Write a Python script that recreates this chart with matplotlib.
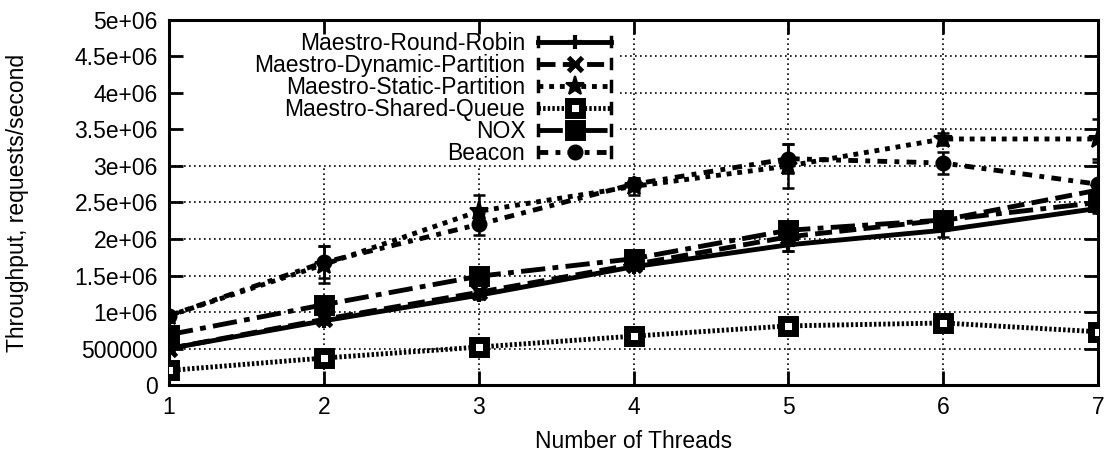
import numpy as np
import matplotlib.pyplot as plt
from matplotlib.lines import Line2D
from matplotlib.legend_handler import HandlerLine2D

plt.rcParams['font.family'] = ['Liberation Sans', 'DejaVu Sans']

threads = [1, 2, 3, 4, 5, 6, 7]

round_robin = [500000, 880000, 1230000, 1620000, 1920000, 2120000, 2420000]
round_robin_err = [30000, 40000, 50000, 50000, 80000, 90000, 60000]

dynamic_part = [500000, 900000, 1270000, 1650000, 2030000, 2260000, 2670000]
dynamic_part_err = [30000, 40000, 50000, 50000, 200000, 100000, 100000]

static_part = [950000, 1650000, 2380000, 2720000, 3000000, 3370000, 3370000]
static_part_err = [40000, 250000, 220000, 120000, 300000, 80000, 270000]

shared_queue = [200000, 370000, 520000, 670000, 810000, 850000, 730000]
shared_queue_err = [10000, 10000, 20000, 20000, 20000, 30000, 20000]

nox = [690000, 1100000, 1490000, 1730000, 2120000, 2260000, 2500000]
nox_err = [20000, 30000, 40000, 40000, 100000, 60000, 90000]

beacon = [950000, 1680000, 2200000, 2750000, 3100000, 3040000, 2750000]
beacon_err = [40000, 220000, 150000, 80000, 200000, 150000, 300000]

series = [
    ('Maestro-Round-Robin', round_robin, round_robin_err, '-', '+', 'k'),
    ('Maestro-Dynamic-Partition', dynamic_part, dynamic_part_err, (0, (3.5, 1.5)), 'x', 'k'),
    ('Maestro-Static-Partition', static_part, static_part_err, (0, (1, 1.2)), '*', 'k'),
    ('Maestro-Shared-Queue', shared_queue, shared_queue_err, (0, (0.5, 0.45)), 's', 'w'),
    ('NOX', nox, nox_err, (0, (5, 1.5, 1.2, 1.5)), 's', 'k'),
    ('Beacon', beacon, beacon_err, (0, (2, 1.5, 1, 1.5)), 'o', 'k'),
]

yticks = np.arange(0, 5000001, 500000)
ytick_labels = ['0', '500000', '1e+06', '1.5e+06', '2e+06', '2.5e+06',
                '3e+06', '3.5e+06', '4e+06', '4.5e+06', '5e+06']


class HandlerCapped(HandlerLine2D):
    # gnuplot-style key sample: line with end caps and a marker in the middle
    def create_artists(self, legend, orig_handle, xdescent, ydescent,
                       width, height, fontsize, trans):
        y = height / 2 - ydescent
        x0, x1 = -xdescent, width - xdescent
        line = Line2D([x0, x1], [y, y])
        line.update_from(orig_handle)
        line.set_marker('None')
        mark = Line2D([(x0 + x1) / 2], [y])
        mark.update_from(orig_handle)
        mark.set_linestyle('None')
        cap = height * 0.3
        caps = [Line2D([xx, xx], [y - cap, y + cap], color='k', lw=2.5)
                for xx in (x0, x1)]
        arts = [line, mark] + caps
        for a in arts:
            a.set_transform(trans)
        return arts


fig = plt.figure(figsize=(11.07, 4.53), dpi=100)
ax = fig.add_axes([0.1527, 0.150, 0.8392, 0.806])

# dotted grid, kept clear of the key area in the upper left
key_x = 0.485
for t in threads[1:-1]:
    top = 0.6 if t < 4 else 1.0
    ax.axvline(t, ymin=0, ymax=top, color='k', lw=1.2, linestyle=(0, (1, 2)), zorder=0.5)
for v in yticks[1:-1]:
    xmin = key_x if v > 3000000 else 0
    ax.axhline(v, xmin=xmin, xmax=1, color='k', lw=1.2, linestyle=(0, (1, 2)), zorder=0.5)

handles = []
for name, vals, err, ls, mk, face in series:
    ms = {'*': 14, 's': 9.5}.get(mk, 10)
    mew = {'+': 3, 'x': 3.5, 's': 5}.get(mk, 1.5)
    ax.errorbar(threads, vals, yerr=err, fmt='none', ecolor='k', elinewidth=1.8,
                capsize=4, capthick=1.8, zorder=2)
    line, = ax.plot(threads, vals, color='k', lw=3.5, linestyle=ls, marker=mk,
                    markersize=ms, markerfacecolor=face, markeredgecolor='k',
                    markeredgewidth=mew, label=name, zorder=3)
    handles.append(line)

ax.set_xlim(1, 7)
ax.set_ylim(0, 5000000)
ax.set_xticks(threads)
ax.set_yticks(yticks)
ax.set_yticklabels(ytick_labels)
ax.tick_params(direction='in', length=10, width=2, top=True, right=True,
               labelsize=16.5, pad=8)
for s in ax.spines.values():
    s.set_linewidth(2.2)

ax.set_xlabel('Number of Threads', fontsize=16.5, labelpad=8)
ax.set_ylabel('Throughput, requests/second', fontsize=16.5)
ax.yaxis.set_label_coords(-0.151, 0.5)

leg = ax.legend(handles=handles, loc='upper right', bbox_to_anchor=(0.476, 0.968),
                markerfirst=False, frameon=False, fontsize=16.5, handlelength=3.2,
                handletextpad=0.55, labelspacing=-0.04, borderpad=0, borderaxespad=0,
                handler_map={Line2D: HandlerCapped()})

fig.savefig('out.png', dpi=100)
